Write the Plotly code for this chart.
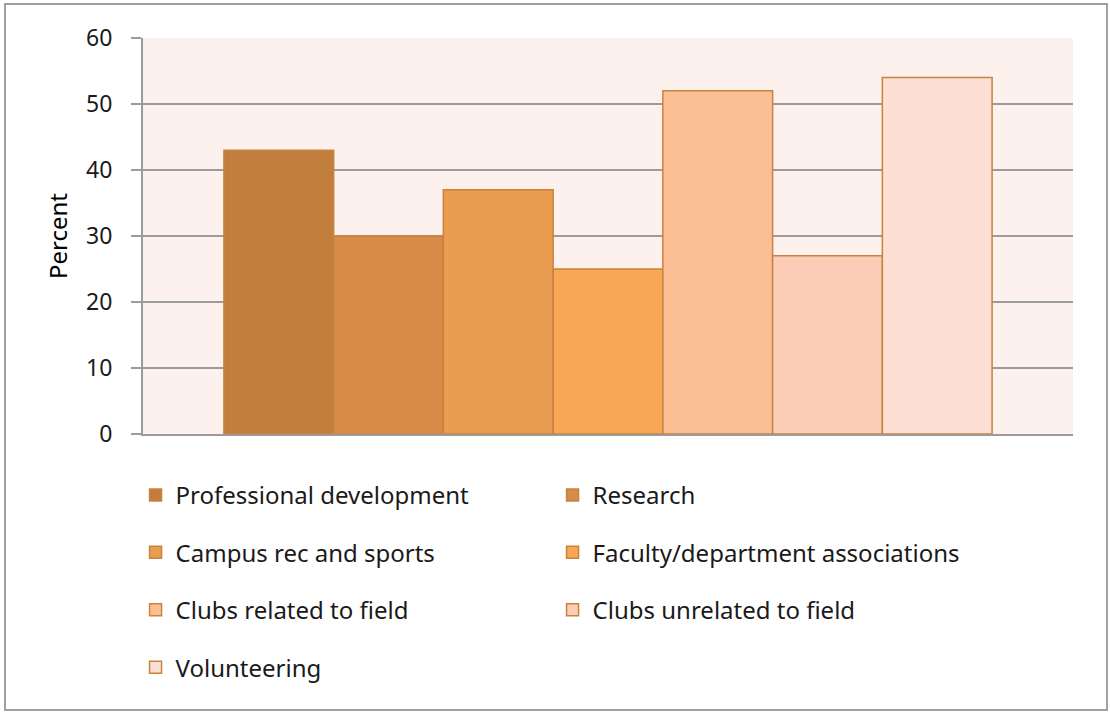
import plotly.graph_objects as go

# Survey: share of respondents taking part in each activity
activities = [
    "Professional development",
    "Research",
    "Campus rec and sports",
    "Faculty/department associations",
    "Clubs related to field",
    "Clubs unrelated to field",
    "Volunteering",
]
percent = [43, 30, 37, 25, 52, 27, 54]
fills = ["#C27E3C", "#D68C46", "#E99D51", "#F9A656", "#FBBE95", "#FBCDB6", "#FDDFD3"]
y_ticks = [0, 10, 20, 30, 40, 50, 60]

FONT = "Noto Sans"
EDGE = "#C8833F"
GRID = "#9B9B9B"

fig = go.Figure()
legend_ids = ["legend", "legend", "legend2", "legend2", "legend3", "legend3", "legend4"]
for name, val, col, lg in zip(activities, percent, fills, legend_ids):
    fig.add_trace(go.Bar(
        x=[""], y=[val], name=name,
        marker=dict(color=col, line=dict(color=EDGE, width=1.5)),
        legend=lg,
    ))

# one legend per row of two entries
row_top = -0.098
row_step = 0.145
legend_common = dict(
    orientation="h", x=-0.008, xanchor="left", yanchor="top",
    entrywidth=372, entrywidthmode="pixels",
    font=dict(family=FONT, size=24, color="#1a1a1a"),
    bgcolor="rgba(0,0,0,0)", itemclick=False, itemdoubleclick=False,
)
layout_legends = {}
for i, key in enumerate(["legend", "legend2", "legend3", "legend4"]):
    layout_legends[key] = dict(legend_common, y=row_top - i * row_step)

fig.update_layout(
    width=1110, height=714,
    margin=dict(l=143, r=37, t=38, b=280),
    paper_bgcolor="white",
    plot_bgcolor="#FCF1EC",
    barmode="group", bargap=0.174, bargroupgap=0,
    showlegend=True,
    **layout_legends,
    xaxis=dict(showticklabels=False, showline=True, linecolor=GRID, linewidth=2,
               showgrid=False, zeroline=False, ticks=""),
    yaxis=dict(range=[0, 60], tickvals=y_ticks, showgrid=True, gridcolor=GRID,
               gridwidth=2, showline=True, linecolor=GRID, linewidth=2,
               ticks="outside", ticklen=10, tickcolor=GRID, tickwidth=2,
               ticklabelstandoff=14, zeroline=False,
               tickfont=dict(family=FONT, size=23, color="#1a1a1a"),
               title=dict(text="Percent", standoff=12,
                          font=dict(family=FONT, size=24, color="#000"))),
    shapes=[dict(type="rect", xref="paper", yref="paper",
                 x0=-0.1484, x1=1.0366, y0=-0.697, y1=1.0859,
                 line=dict(color="#A0A0A0", width=2), fillcolor="rgba(0,0,0,0)",
                 layer="below")],
)

fig.write_html("out.html")
